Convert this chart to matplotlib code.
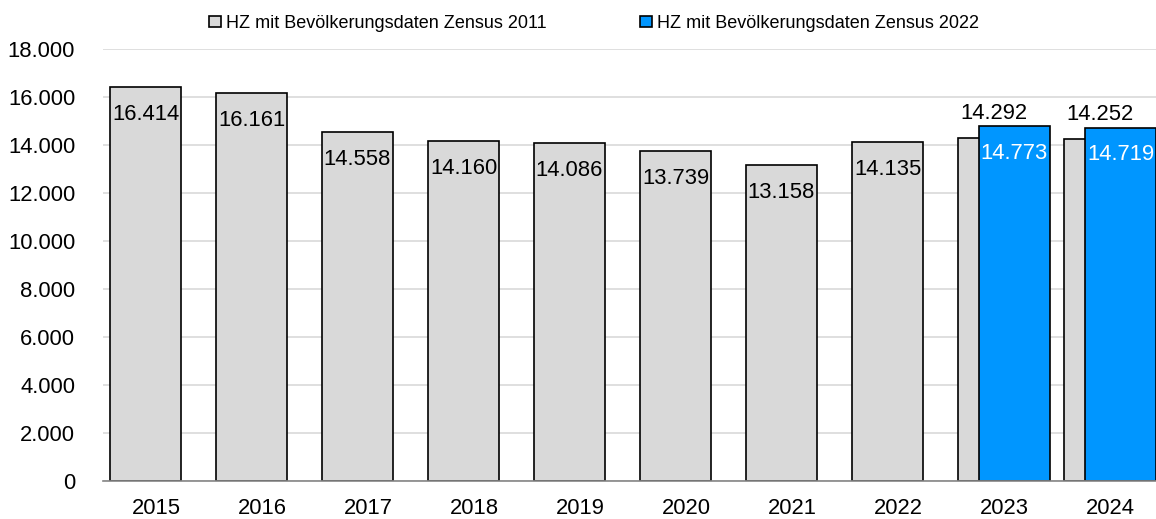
import matplotlib
matplotlib.use('Agg')
import numpy as np
import matplotlib.pyplot as plt
from matplotlib.patches import Patch

plt.rcParams['font.family'] = ['Liberation Sans', 'DejaVu Sans']

years = ['2015', '2016', '2017', '2018', '2019', '2020', '2021', '2022', '2023', '2024']
zensus_2011 = [16414, 16161, 14558, 14160, 14086, 13739, 13158, 14135, 14292, 14252]
zensus_2022 = [None, None, None, None, None, None, None, None, 14773, 14719]

label_2011 = 'HZ mit Bevölkerungsdaten Zensus 2011'
label_2022 = 'HZ mit Bevölkerungsdaten Zensus 2022'

grey = '#d9d9d9'
blue = '#0096ff'


def fmt(v):
    return f'{v:,}'.replace(',', '.')


W, H = 1156, 519
fig = plt.figure(figsize=(W / 100, H / 100), dpi=100)
ax = fig.add_axes([103 / W, 1 - 481 / H, 1060 / W, 432 / H])

x = np.arange(len(years))
width = 0.67
shift = 0.099

for i, (a, b) in enumerate(zip(zensus_2011, zensus_2022)):
    if b is None:
        # only the old series: bar sits left in its slot, label inside top
        xa = x[i] - shift
        ax.bar(xa, a, width, color=grey, edgecolor='black', linewidth=1.2, zorder=2)
        ax.text(xa, a - 1150, fmt(a), ha='center', va='center', fontsize=15.8, zorder=4)
    else:
        xa = x[i] - shift
        xb = x[i] + shift
        ax.bar(xa, a, width, color=grey, edgecolor='black', linewidth=1.2, zorder=2)
        ax.bar(xb, b, width, color=blue, edgecolor='black', linewidth=1.2, zorder=3)
        ax.text(xa, a + 1000, fmt(a), ha='center', va='center', fontsize=15.8, zorder=4)
        ax.text(xb, b - 1110, fmt(b), ha='center', va='center', fontsize=15.8,
                color='white', zorder=4)

ax.set_xlim(-0.5, len(years) - 0.5)
ax.set_ylim(0, 18000)
ax.set_yticks(np.arange(0, 18001, 2000))
ax.set_yticklabels([fmt(v) for v in range(0, 18001, 2000)], fontsize=15.8)
ax.set_xticks(x)
ax.set_xticklabels(years, fontsize=15.8)
ax.tick_params(axis='both', length=0, pad=12)
ax.tick_params(axis='y', pad=20)

ax.yaxis.grid(True, color='#d9d9d9', linewidth=1.2, zorder=0)
ax.set_axisbelow(True)
for side in ['top', 'right', 'left']:
    ax.spines[side].set_visible(False)
ax.spines['bottom'].set_color('#868686')
ax.spines['bottom'].set_linewidth(1.2)
ax.spines['bottom'].set_zorder(5)

handles = [Patch(facecolor=grey, edgecolor='black', linewidth=1.2, label=label_2011),
           Patch(facecolor=blue, edgecolor='black', linewidth=1.2, label=label_2022)]
fig.legend(handles=handles, loc='center', bbox_to_anchor=(594 / W, 1 - 23 / H),
           ncol=2, frameon=False, fontsize=13, handlelength=0.65, handleheight=0.55,
           handletextpad=0.28, columnspacing=5.2, borderpad=0)

fig.savefig('out.png', dpi=100)
